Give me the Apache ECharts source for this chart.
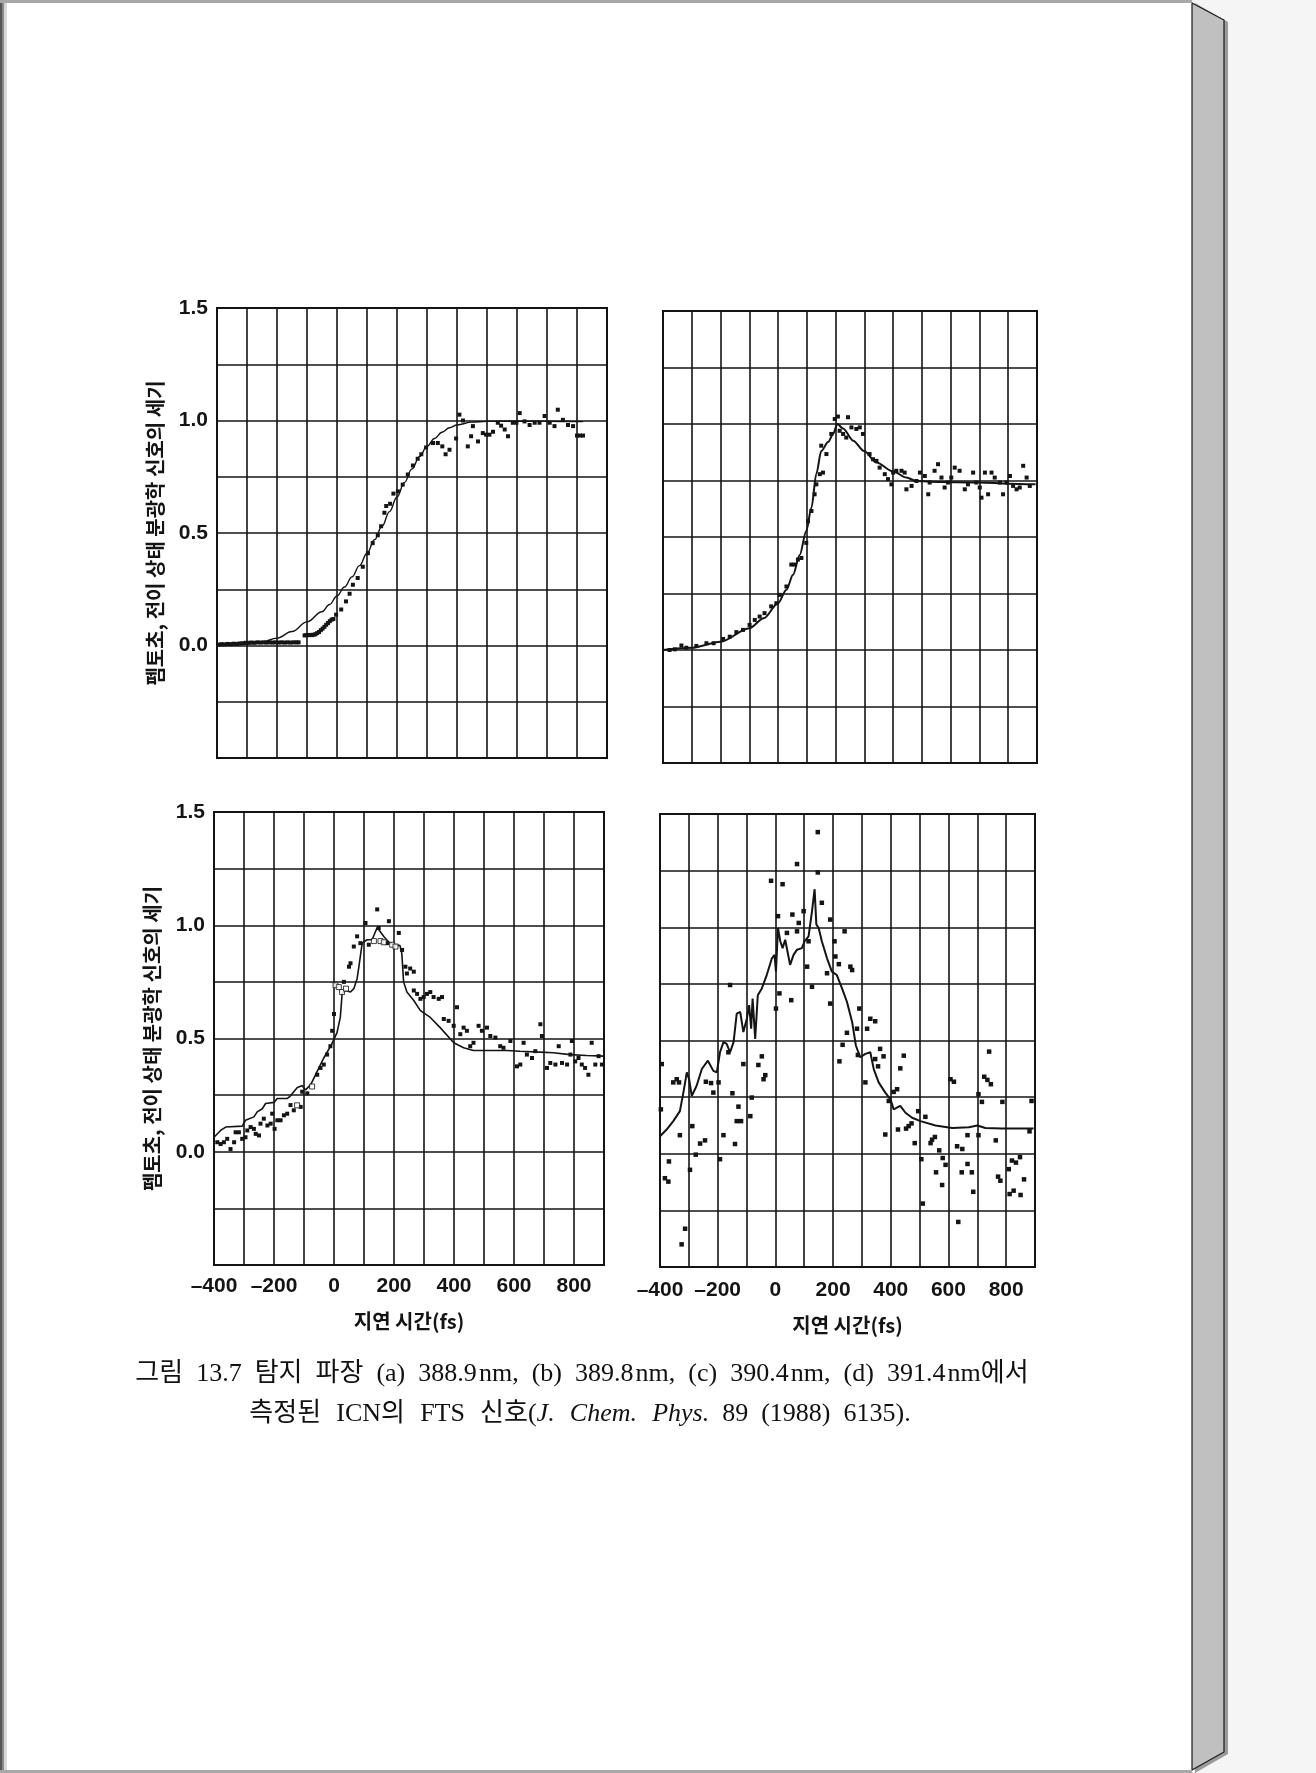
<!DOCTYPE html>
<html><head><meta charset="utf-8">
<script src="https://cdn.jsdelivr.net/npm/echarts@6/dist/echarts.min.js"></script>
<style>html,body{margin:0;padding:0;background:#fff}#c{width:1316px;height:1773px}</style>
</head><body><div id="c"></div><script>
// ---------- data (time in fs, signal intensity) ----------
const xTickLabels = [-400, -200, 0, 200, 400, 600, 800];
const yTickLabels = [0.0, 0.5, 1.0, 1.5];
const xAxisName = '지연 시간(fs)';
const yAxisName = '펨토초, 전이 상태 분광학 신호의 세기';
const SP = '\u2002';
const captionLine1 = ['그림', '13.7', '탐지', '파장', '(a)', '388.9\u200anm,', '(b)', '389.8\u200anm,', '(c)', '390.4\u200anm,', '(d)', '391.4\u200anm에서'].join(SP);
const captionLine2a = ['측정된', 'ICN의', 'FTS', '신호('].join(SP + '\u200a');
const captionLine2b = 'J.' + SP + '\u200a' + 'Chem.' + SP + '\u200a' + 'Phys.';
const captionLine2c = SP + '89' + SP + '(1988)' + SP + '6135).';

// (a) 388.9 nm
const fitA = [[-400,0.0],[-350,0.002],[-300,0.006],[-250,0.016],[-200,0.033],[-150,0.062],[-100,0.105],[-50,0.150],[-25,0.182],[0,0.22],[25,0.26],[50,0.305],[75,0.355],[100,0.41],[125,0.47],[150,0.53],[175,0.595],[200,0.66],[225,0.725],[250,0.785],[275,0.84],[300,0.885],[325,0.92],[350,0.948],[375,0.968],[400,0.98],[450,0.993],[500,0.996],[600,0.997],[700,0.996],[800,0.995],[820,0.995]];
const obsA = [[-395,0.004],[-385,0.006],[-375,0.005],[-365,0.007],[-355,0.006],[-345,0.008],[-335,0.007],[-325,0.009],[-315,0.01],[-305,0.012],[-295,0.012],[-285,0.013],[-275,0.012],[-265,0.014],[-255,0.013],[-245,0.014],[-235,0.013],[-225,0.014],[-215,0.013],[-205,0.014],[-195,0.013],[-185,0.014],[-175,0.013],[-165,0.014],[-155,0.013],[-145,0.014],[-135,0.014],[-128,0.014],
[-108,0.045],[-102,0.046],[-96,0.046],[-90,0.047],[-84,0.046],[-78,0.048],[-72,0.05],[-66,0.055],[-60,0.06],[-54,0.068],[-48,0.075],[-42,0.083],[-36,0.092],[-30,0.10],[-24,0.108],[-18,0.115],[-12,0.118],
[-3,0.137],[14,0.16],[30,0.196],[42,0.23],[53,0.27],[69,0.30],[86,0.35],[103,0.41],[119,0.455],[136,0.49],[147,0.53],[158,0.59],[164,0.62],[177,0.63],[188,0.675],[203,0.685],[219,0.715],[236,0.76],[253,0.80],[269,0.83],[281,0.85],[297,0.88],[320,0.90],[336,0.90],[351,0.885],[362,0.85],[375,0.87],[397,0.92],[408,1.026],[420,1.0],[436,0.885],[447,0.93],[453,0.975],[470,0.907],[486,0.944],[497,0.937],[508,0.937],[520,0.95],[536,0.99],[547,0.977],[559,0.96],[570,0.93],[586,0.99],[598,0.99],[609,1.033],[625,0.996],[642,0.98],[659,0.99],[675,0.99],[692,1.02],[709,0.99],[725,0.975],[736,1.048],[753,1.003],[770,0.98],[787,0.975],[800,0.933],[810,0.933],[820,0.933]];

// (b) 389.8 nm
const fitB = [[-400,0.0],[-300,0.01],[-200,0.037],[-100,0.096],[-50,0.14],[0,0.207],[29,0.267],[52,0.333],[75,0.42],[98,0.526],[116,0.63],[133,0.78],[150,0.88],[174,0.92],[191,0.955],[206,1.0],[226,0.98],[261,0.926],[299,0.88],[342,0.83],[400,0.79],[446,0.763],[480,0.748],[527,0.745],[620,0.742],[701,0.741],[802,0.736],[895,0.733]];
const obsB = [[-377,0.0],[-359,0.003],[-336,0.02],[-319,0.01],[-284,0.018],[-249,0.03],[-224,0.03],[-191,0.049],[-168,0.059],[-145,0.079],[-122,0.089],[-99,0.111],[-81,0.133],[-64,0.148],[-47,0.163],[-24,0.193],[-6,0.207],[6,0.244],[29,0.281],[46,0.378],[57,0.378],[69,0.40],[81,0.407],[98,0.474],[104,0.57],[116,0.615],[127,0.689],[133,0.733],[145,0.778],[156,0.785],[150,0.904],[168,0.867],[185,0.956],[197,1.022],[208,1.033],[214,0.97],[226,0.956],[243,1.03],[237,0.94],[255,0.985],[272,0.978],[284,0.985],[295,0.956],[318,0.867],[330,0.844],[342,0.837],[353,0.807],[371,0.778],[382,0.756],[394,0.733],[400,0.785],[411,0.793],[429,0.793],[440,0.785],[446,0.711],[464,0.726],[481,0.748],[493,0.785],[510,0.77],[522,0.689],[527,0.741],[544,0.793],[556,0.822],[568,0.763],[579,0.719],[591,0.741],[602,0.763],[614,0.807],[631,0.793],[649,0.711],[660,0.733],[678,0.785],[689,0.741],[701,0.719],[707,0.674],[719,0.785],[730,0.689],[742,0.785],[753,0.763],[771,0.741],[782,0.689],[794,0.741],[806,0.77],[817,0.726],[829,0.711],[840,0.719],[852,0.815],[864,0.763],[875,0.726]];

// (c) 390.4 nm
const fitC = [[-400,0.064],[-378,0.094],[-361,0.109],[-356,0.113],[-306,0.113],[-295,0.139],[-267,0.154],[-256,0.176],[-239,0.19],[-228,0.213],[-200,0.218],[-189,0.235],[-156,0.235],[-145,0.247],[-134,0.265],[-123,0.283],[-106,0.292],[-95,0.273],[-78,0.295],[-56,0.355],[-34,0.414],[-8,0.474],[10,0.526],[21,0.593],[27,0.697],[38,0.712],[55,0.705],[66,0.72],[77,0.764],[83,0.817],[94,0.921],[110,0.936],[127,0.936],[144,0.99],[155,0.97],[166,0.95],[183,0.925],[205,0.914],[220,0.91],[226,0.876],[232,0.75],[243,0.705],[266,0.668],[288,0.623],[321,0.593],[354,0.548],[399,0.481],[432,0.459],[465,0.447],[510,0.447],[576,0.447],[620,0.444],[687,0.44],[731,0.437],[787,0.429],[842,0.425],[900,0.422]];
const obsC = [[-389,0.042],[-378,0.034],[-367,0.042],[-356,0.057],[-345,0.012],[-333,0.042],[-328,0.086],[-317,0.086],[-306,0.057],[-295,0.064],[-289,0.094],[-278,0.109],[-267,0.101],[-261,0.079],[-250,0.072],[-245,0.124],[-234,0.146],[-222,0.116],[-211,0.124],[-206,0.168],[-198,0.101],[-189,0.139],[-178,0.139],[-167,0.161],[-156,0.168],[-145,0.206],[-134,0.183],[-111,0.198],[-106,0.265],[-89,0.258],[-56,0.34],[-45,0.37],[-34,0.385],[-23,0.429],[-12,0.466],[-6,0.534],[0,0.608],[33,0.75],[50,0.817],[55,0.832],[66,0.906],[77,0.951],[88,0.921],[105,1.01],[116,0.914],[144,1.07],[149,0.988],[177,0.921],[183,1.018],[216,0.966],[227,0.891],[238,0.817],[243,0.787],[254,0.809],[266,0.795],[266,0.712],[277,0.697],[288,0.675],[299,0.683],[310,0.697],[321,0.705],[332,0.683],[349,0.675],[360,0.683],[366,0.586],[382,0.578],[399,0.556],[410,0.638],[421,0.519],[432,0.548],[443,0.534],[454,0.466],[465,0.481],[482,0.556],[493,0.534],[510,0.548],[521,0.511],[538,0.504],[554,0.466],[565,0.459],[588,0.489],[610,0.377],[621,0.385],[632,0.481],[643,0.429],[660,0.414],[671,0.444],[688,0.563],[693,0.511],[710,0.37],[721,0.392],[738,0.385],[749,0.466],[760,0.392],[777,0.385],[788,0.429],[793,0.489],[804,0.399],[815,0.414],[826,0.385],[837,0.37],[848,0.34],[859,0.481],[871,0.385],[882,0.422],[893,0.385]];
const openC = [[-123,0.205],[-73,0.288],[5,0.735],[16,0.727],[27,0.705],[40,0.72],[133,0.93],[155,0.93],[166,0.925],[194,0.914],[205,0.906]];

// (d) 391.4 nm
const fitD = [[-400,0.077],[-377,0.107],[-354,0.144],[-331,0.188],[-319,0.27],[-307,0.359],[-299,0.329],[-290,0.255],[-273,0.30],[-255,0.374],[-234,0.411],[-215,0.366],[-203,0.359],[-192,0.448],[-180,0.493],[-169,0.485],[-157,0.448],[-145,0.493],[-134,0.619],[-122,0.626],[-111,0.537],[-99,0.596],[-91,0.656],[-84,0.552],[-79,0.685],[-70,0.507],[-61,0.70],[-47,0.73],[-30,0.789],[-12,0.863],[-3,0.878],[2,0.804],[9,0.997],[17,0.938],[25,0.908],[34,0.945],[42,0.893],[51,0.834],[63,0.878],[75,0.901],[92,0.908],[101,0.938],[115,0.96],[127,1.071],[136,1.168],[142,1.012],[150,0.997],[161,0.938],[179,0.863],[196,0.804],[213,0.789],[231,0.73],[248,0.671],[266,0.582],[279,0.478],[294,0.426],[312,0.441],[329,0.448],[341,0.374],[358,0.315],[381,0.27],[399,0.24],[410,0.196],[433,0.211],[451,0.181],[474,0.159],[503,0.144],[555,0.125],[613,0.114],[671,0.117],[700,0.125],[728,0.114],[786,0.111],[895,0.111]];
const obsD = [[-394,0.396],[-397,0.196],[-383,-0.108],[-371,-0.123],[-369,-0.034],[-354,0.315],[-342,0.329],[-334,0.315],[-331,0.082],[-325,-0.40],[-313,-0.331],[-296,-0.071],[-288,0.122],[-276,-0.004],[-261,0.045],[-244,0.059],[-241,0.318],[-223,0.312],[-215,0.27],[-197,0.315],[-192,-0.024],[-180,0.082],[-163,0.448],[-157,0.745],[-149,0.267],[-140,0.043],[-134,0.144],[-128,0.208],[-119,0.144],[-111,0.396],[-87,0.166],[-82,0.248],[-59,0.392],[-47,0.43],[-41,0.329],[-35,0.347],[-15,1.205],[2,0.641],[14,0.708],[9,1.049],[25,1.19],[40,0.975],[55,0.678],[59,1.056],[75,1.279],[81,1.019],[75,0.982],[98,1.071],[110,0.826],[115,0.938],[127,0.737],[147,1.42],[147,1.242],[161,1.108],[179,0.797],[190,1.034],[190,0.663],[205,0.938],[208,0.871],[220,0.837],[222,0.408],[233,0.481],[240,0.982],[248,0.534],[260,0.826],[266,0.811],[283,0.552],[286,0.436],[291,0.641],[312,0.315],[318,0.552],[329,0.596],[346,0.585],[346,0.418],[356,0.386],[363,0.463],[375,0.43],[381,0.085],[393,0.233],[410,0.273],[422,0.285],[425,0.107],[433,0.377],[445,0.433],[453,0.111],[462,0.122],[472,0.134],[483,0.047],[495,0.188],[506,-0.024],[511,-0.22],[520,0.163],[538,0.047],[543,0.062],[553,0.074],[557,-0.082],[568,0.015],[578,-0.138],[580,-0.019],[590,-0.049],[607,0.329],[619,0.318],[634,-0.301],[630,0.033],[648,0.021],[646,-0.082],[666,-0.045],[666,0.082],[681,-0.082],[686,-0.168],[704,0.082],[704,0.263],[716,0.229],[724,0.34],[735,0.326],[747,0.307],[741,0.451],[764,0.059],[772,-0.101],[780,-0.119],[787,0.229],[809,-0.068],[812,-0.178],[826,-0.163],[820,-0.03],[834,-0.039],[848,-0.015],[850,-0.182],[862,-0.113],[881,0.099],[888,0.233]];

// ---------- chart ----------
const INK = '#141414';
const grids = [
  {left: 217, top: 308, width: 390, height: 450},
  {left: 663, top: 311, width: 374, height: 452},
  {left: 214, top: 812, width: 390, height: 453},
  {left: 660, top: 814, width: 375, height: 453}
].map(g => Object.assign({show: true, borderColor: INK, borderWidth: 2, backgroundColor: 'transparent', containLabel: false}, g));

function fmtX(v) {
  if (!xTickLabels.includes(v)) return '';
  return v < 0 ? '\u2013' + Math.abs(v) : String(v);
}
function fmtY(v) {
  return yTickLabels.some(t => Math.abs(t - v) < 1e-6) ? v.toFixed(1) : '';
}
const tickFont = {fontFamily: 'Liberation Sans, Arial, sans-serif', fontWeight: 'bold', fontSize: 21, color: INK};
const nameFont = {fontFamily: 'Noto Sans CJK KR, sans-serif', fontWeight: 'bold', color: INK};

function xAx(i, labels, gap, margin) {
  return {
    type: 'value', gridIndex: i, min: -400, max: 900, interval: 100,
    axisLine: {show: false, onZero: false}, axisTick: {show: false},
    splitLine: {show: true, lineStyle: {color: INK, width: 1.6}},
    axisLabel: Object.assign({show: labels, margin: margin || 11, formatter: fmtX}, tickFont),
    name: labels ? xAxisName : '', nameLocation: 'middle', nameGap: gap || 46,
    nameTextStyle: Object.assign({fontSize: 20}, nameFont)
  };
}
function yAx(i, labels) {
  return {
    type: 'value', gridIndex: i, min: -0.5, max: 1.5, interval: 0.25,
    axisLine: {show: false, onZero: false}, axisTick: {show: false},
    splitLine: {show: true, lineStyle: {color: INK, width: 1.6}},
    axisLabel: Object.assign({show: labels, margin: 9, formatter: fmtY}, tickFont),
    name: labels ? yAxisName : '', nameLocation: 'middle', nameGap: 52, nameRotate: 90,
    nameTextStyle: Object.assign({fontSize: 20}, nameFont)
  };
}
function lineS(i, data, w, smooth) {
  return {type: 'line', xAxisIndex: i, yAxisIndex: i, data: data, showSymbol: false, smooth: smooth,
    smoothMonotone: smooth ? 'x' : undefined,
    lineStyle: {color: INK, width: w}, silent: true, z: 3};
}
function dotS(i, data, size) {
  return {type: 'scatter', xAxisIndex: i, yAxisIndex: i, data: data, symbol: 'rect', symbolSize: size,
    itemStyle: {color: INK, opacity: 1}, silent: true, z: 4};
}

const chart = echarts.init(document.getElementById('c'), null, {renderer: 'canvas', width: 1316, height: 1773});
chart.setOption({
  animation: false,
  backgroundColor: '#ffffff',
  grid: grids,
  xAxis: [xAx(0, false), xAx(1, false), xAx(2, true, 46, 11), xAx(3, true, 48, 13)],
  yAxis: [yAx(0, true), yAx(1, false), yAx(2, true), yAx(3, false)],
  series: [
    lineS(0, fitA, 1.4, 0.4), dotS(0, obsA, [4, 4]),
    lineS(1, fitB, 2, 0.3), dotS(1, obsB, [4, 4]),
    lineS(2, fitC, 1.6, false), dotS(2, obsC, [4, 4]),
    {type: 'scatter', xAxisIndex: 2, yAxisIndex: 2, data: openC, symbol: 'rect', symbolSize: [5, 5],
      itemStyle: {color: '#ffffff', borderColor: INK, borderWidth: 1}, silent: true, z: 5},
    lineS(3, fitD, 2, false), dotS(3, obsD, [4.5, 4.5])
  ],
  graphic: [
    // page edge decoration (book scan)
    {type: 'rect', shape: {x: 1192, y: 0, width: 124, height: 1773}, style: {fill: '#f5f5f5'}, silent: true},
    {type: 'polygon', shape: {points: [[1195, 3], [1228, 22], [1228, 1754], [1195, 1773]]}, style: {fill: '#9a9a9a'}, silent: true},
    {type: 'polygon', shape: {points: [[1192, 3], [1224, 20], [1224, 1752], [1192, 1770]]}, style: {fill: '#c0c0c0', stroke: '#1a1a1a', lineWidth: 1.2}, silent: true},
    {type: 'rect', shape: {x: 0, y: 0, width: 1192, height: 3}, style: {fill: '#a8a8a8'}, silent: true},
    {type: 'rect', shape: {x: 0, y: 1770, width: 1192, height: 3}, style: {fill: '#a8a8a8'}, silent: true},
    {type: 'rect', shape: {x: 0, y: 3, width: 2, height: 1767}, style: {fill: '#555555'}, silent: true},
    {type: 'rect', shape: {x: 2, y: 3, width: 2, height: 1767}, style: {fill: '#8a8a8a'}, silent: true},
    {type: 'rect', shape: {x: 4, y: 3, width: 3, height: 1767}, style: {fill: '#d8d8d8'}, silent: true},
    // caption
    {type: 'text', x: 582, y: 1374, silent: true,
      style: {text: captionLine1, fill: '#111', font: '26px "Liberation Serif", "Noto Sans CJK KR", serif', textAlign: 'center', textVerticalAlign: 'middle'}},
    {type: 'text', x: 580, y: 1414, silent: true,
      style: {text: '{n|' + captionLine2a + '}{i|' + captionLine2b + '}{n|' + captionLine2c + '}',
        textAlign: 'center', textVerticalAlign: 'middle',
        rich: {
          n: {fontFamily: '"Liberation Serif", "Noto Sans CJK KR", serif', fontSize: 26, fill: '#111'},
          i: {fontFamily: '"Liberation Serif", serif', fontStyle: 'italic', fontSize: 26, fill: '#111'}
        }}}
  ]
});
</script></body></html>
